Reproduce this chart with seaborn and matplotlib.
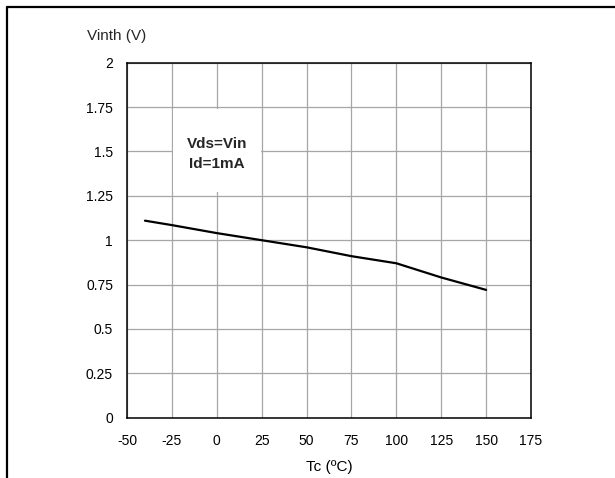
import matplotlib
matplotlib.use("Agg")
import matplotlib.pyplot as plt
from matplotlib.lines import Line2D
from matplotlib.patches import Rectangle
import seaborn as sns
import pandas as pd

# Threshold voltage versus case temperature
tc_values = [-40, -25, 0, 25, 50, 75, 100, 125, 150]
vinth_values = [1.11, 1.085, 1.04, 1.0, 0.96, 0.91, 0.87, 0.79, 0.72]
x_ticks = [-50, -25, 0, 25, 50, 75, 100, 125, 150, 175]
y_ticks = [0, 0.25, 0.5, 0.75, 1, 1.25, 1.5, 1.75, 2]
y_tick_labels = ["0", "0.25", "0.5", "0.75", "1", "1.25", "1.5", "1.75", "2"]

sns.set_theme(style="whitegrid")
plt.rcParams["font.family"] = ["Liberation Sans", "DejaVu Sans"]
plt.rcParams["font.size"] = 10

df = pd.DataFrame({"Tc": tc_values, "Vinth": vinth_values})

fig = plt.figure(figsize=(6.15, 4.78), dpi=100)
ax = fig.add_axes([0.2065, 0.1262, 0.6569, 0.7426])

sns.lineplot(data=df, x="Tc", y="Vinth", ax=ax, color="black", linewidth=1.6)

ax.set_xlim(-50, 175)
ax.set_ylim(0, 2)
ax.set_xticks(x_ticks)
ax.set_xticklabels([str(v) for v in x_ticks])
ax.set_yticks(y_ticks)
ax.set_yticklabels(y_tick_labels)
ax.tick_params(axis="both", length=0, labelsize=10, colors="black")
ax.tick_params(axis="x", pad=11.5)
ax.tick_params(axis="y", pad=10)

ax.grid(True, color="#a6a6a6", linewidth=0.9)
ax.set_facecolor("white")
for s in ax.spines.values():
    s.set_visible(True)
    s.set_color("black")
    s.set_linewidth(1.1)

ax.set_xlabel("Tc (ºC)", fontsize=11, labelpad=9, color="black")
ax.set_ylabel("")
fig.text(87 / 615, 1 - 36 / 478, "Vinth (V)", fontsize=11, ha="left", va="center")

# Condition box covering the grid
ax.add_patch(Rectangle((-24.6, 1.27), 49.2, 0.47, facecolor="white",
                       edgecolor="none", zorder=2.5))
ax.text(0, 1.485, "Vds=Vin\nId=1mA", ha="center", va="center", fontsize=11,
        fontweight="bold", linespacing=1.5, zorder=3)

# Outer frame (top and left edges)
fig.add_artist(Line2D([6.5 / 615, 1.0], [1 - 7 / 478, 1 - 7 / 478],
                      transform=fig.transFigure, color="black", linewidth=1.6))
fig.add_artist(Line2D([6.5 / 615, 6.5 / 615], [0, 1 - 7 / 478],
                      transform=fig.transFigure, color="black", linewidth=1.6))

fig.savefig("out.png", dpi=100, facecolor="white")
